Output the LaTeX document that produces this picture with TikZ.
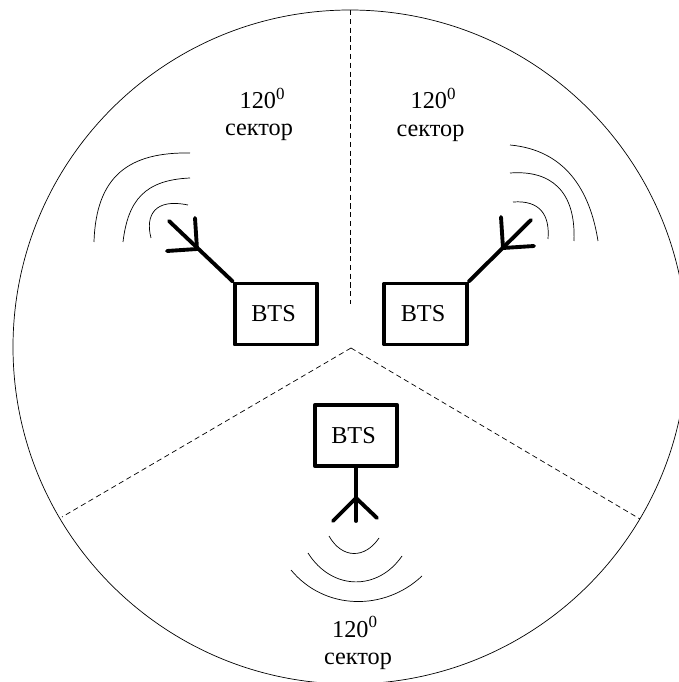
\documentclass[tikz,border=0pt]{standalone}
\usepackage{fontspec}
\setmainfont{Liberation Serif}
\tikzset{
    btsbox/.style={draw,line width=2.2pt,line join=round,minimum width=1.65cm,minimum height=1.22cm,inner sep=0pt,font=\fontsize{13.8}{15}\selectfont},
    antenna/.style={line width=2.2pt,line cap=round},
    wave/.style={line width=0.4pt},
    sectorline/.style={line width=0.4pt,dash pattern=on 3pt off 2pt},
    sectorlabel/.style={anchor=base,font=\fontsize{13.8}{15}\selectfont}
}
\begin{document}
\begin{tikzpicture}
    \useasboundingbox (0,0) rectangle (13.58,13.64);
    \clip (0,0) rectangle (13.58,13.64);
    \draw[line width=0.4pt] (7,6.7) circle (6.74);
    % sector borders
    \coordinate (apex) at (7.02,6.68);
    \coordinate (topend) at (7,13.44);
    \coordinate (topstart) at (7,7.56);
    \coordinate (leftend) at (1.24,3.30);
    \coordinate (rightend) at (12.8,3.26);
    \draw[sectorline] (topend) -- (topstart);
    \draw[sectorline] (apex) -- (leftend);
    \draw[sectorline] (apex) -- (rightend);
    % stations
    \node[btsbox] (btsl) at (5.52,7.36) {\hspace{-1mm}BTS};
    \node[btsbox] (btsr) at (8.51,7.36) {\hspace{-1mm}BTS};
    \node[btsbox] (btsb) at (7.12,4.93) {\hspace{-1mm}BTS};
    % antennas
    \coordinate (tipl) at (3.38,9.22);
    \coordinate (forkl) at (3.94,8.66);
    \coordinate (tipr) at (10.62,9.24);
    \coordinate (forkr) at (10.06,8.68);
    \coordinate (tipb) at (7.12,3.22);
    \coordinate (forkb) at (7.12,3.68);
    \draw[antenna] (btsl.north west) -- (tipl);
    \draw[antenna] (3.90,9.28) -- (forkl) -- (3.34,8.62);
    \draw[antenna] (btsr.north east) -- (tipr);
    \draw[antenna] (10.02,9.30) -- (forkr) -- (10.68,8.72);
    \draw[antenna] (btsb.south) -- (tipb);
    \draw[antenna] (6.66,3.22) -- (forkb) -- (7.54,3.28);
    % waves
    \draw[wave] (1.88,8.80) .. controls (1.92,10.14) and (2.60,10.60) .. (3.80,10.58);
    \draw[wave] (2.46,8.80) .. controls (2.56,9.64) and (2.90,10.04) .. (3.80,10.08);
    \draw[wave] (3.02,8.88) .. controls (2.90,9.34) and (3.10,9.68) .. (3.76,9.54);
    \draw[wave] (10.20,10.74) .. controls (11.30,10.64) and (11.80,9.84) .. (11.96,8.82);
    \draw[wave] (10.20,10.18) .. controls (11.00,10.24) and (11.52,9.84) .. (11.48,8.82);
    \draw[wave] (10.26,9.60) .. controls (10.80,9.64) and (11.00,9.34) .. (10.96,8.86);
    \draw[wave] (6.58,2.92) .. controls (6.84,2.46) and (7.30,2.46) .. (7.58,2.88);
    \draw[wave] (6.16,2.58) .. controls (6.64,1.82) and (7.56,1.82) .. (8.04,2.52);
    \draw[wave] (5.82,2.24) .. controls (6.50,1.42) and (7.70,1.42) .. (8.44,2.12);
    % labels
    \node[sectorlabel] (anglel) at (5.25,11.46) {120\textsuperscript{0}};
    \node[sectorlabel] (namel) at (5.18,10.92) {сектор};
    \node[sectorlabel] (angler) at (8.67,11.46) {120\textsuperscript{0}};
    \node[sectorlabel] (namer) at (8.61,10.90) {сектор};
    \node[sectorlabel] (angleb) at (7.10,0.90) {120\textsuperscript{0}};
    \node[sectorlabel] (nameb) at (7.16,0.34) {сектор};
\end{tikzpicture}
\end{document}
